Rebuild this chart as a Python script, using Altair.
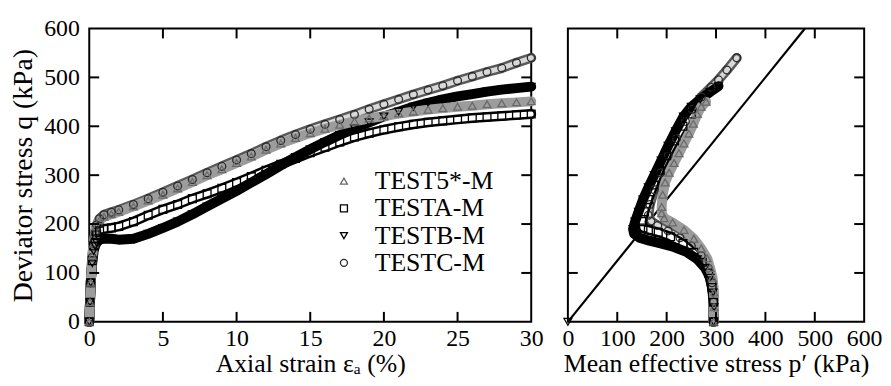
import altair as alt
import pandas as pd

SERIES = ["TEST5*-M", "TESTA-M", "TESTB-M", "TESTC-M"]
SHAPES = ["triangle-up", "square", "triangle-down", "circle"]
MARK_STROKE = ["#6a6a6a", "#000000", "#000000", "#2a2a2a"]
BAND_OUTER = ["#9c9c9c", "#000000", "#000000", "#5a5a5a"]
BAND_INNER = [None, "#ffffff", None, "#d8d8d8"]
DRAW_ORDER = [3, 1, 2, 0]

# ---- Left panel: axial strain (%) vs deviator stress q (kPa)
strain = [0, 0.05, 0.1, 0.2, 0.3, 0.4, 0.5, 0.7, 1, 1.5, 2, 3, 4, 5, 6, 7, 8, 9, 10,
          11, 12, 13, 14, 15, 16, 17, 18, 19, 20, 21, 22, 23, 24, 25, 26, 27, 28, 29, 30]
q_t5 = [0, 40, 80, 135, 160, 180, 195, 208, 215, 220, 225, 236, 248, 260, 273, 286, 300, 312, 325,
        338, 352, 365, 376, 386, 395, 403, 410, 416, 421, 426, 430, 434, 437, 440, 442, 445, 447, 449, 451]
q_ta = [0, 40, 80, 125, 155, 170, 178, 186, 190, 192, 195, 205, 218, 230, 240, 252, 262, 273, 285,
        297, 310, 322, 334, 346, 357, 368, 378, 386, 393, 399, 404, 408, 411, 414, 417, 419, 421, 423, 425]
q_tb = [0, 40, 80, 120, 145, 155, 162, 168, 170, 170, 168, 170, 180, 192, 205, 220, 236, 252, 268,
        285, 302, 320, 337, 353, 368, 382, 396, 408, 420, 430, 440, 448, 455, 461, 466, 471, 475, 478, 481]
q_tc = [0, 40, 80, 132, 162, 183, 198, 211, 219, 224, 229, 240, 252, 265, 278, 291, 305, 318, 331,
        344, 358, 371, 383, 394, 404, 414, 424, 435, 445, 455, 465, 474, 483, 493, 502, 511, 519, 530, 540]

# ---- Right panel: mean effective stress p' (kPa) vs q (kPa)
p_t5 = [295, 296, 296, 293, 288, 282, 270, 255, 235, 212, 195, 190, 190, 192, 197, 205, 215, 225, 235, 245, 254, 262, 270, 280]
pq_t5 = [0, 30, 60, 90, 110, 130, 150, 170, 188, 203, 212, 222, 235, 260, 285, 305, 325, 345, 365, 385, 405, 425, 440, 450]
p_ta = [295, 295, 292, 285, 272, 255, 233, 208, 183, 163, 152, 150, 155, 163, 174, 186, 200, 216, 233, 250]
pq_ta = [0, 40, 70, 100, 122, 142, 160, 174, 183, 188, 192, 205, 225, 250, 280, 310, 340, 370, 400, 425]
p_tb = [295, 296, 294, 288, 278, 262, 240, 215, 190, 165, 145, 134, 132, 136, 143, 152, 163, 175, 189, 203,
        218, 234, 250, 268, 288, 305]
pq_tb = [0, 30, 60, 90, 110, 128, 143, 153, 160, 166, 172, 180, 190, 205, 225, 250, 275, 300, 330, 360,
         390, 420, 440, 455, 470, 482]
p_tc = [295, 295, 292, 284, 270, 250, 227, 203, 182, 168, 163, 166, 175, 188, 203, 220, 238, 252, 270, 290, 305, 322, 342]
pq_tc = [0, 40, 80, 110, 135, 155, 172, 186, 197, 206, 218, 240, 270, 305, 340, 375, 410, 435, 460, 480, 495, 515, 540]
p_tb_extra = [0]
pq_tb_extra = [0]

csl_p = [0, 480]
csl_q = [0, 600]

left_x_labels = [0, 5, 10, 15, 20, 25, 30]
left_x_ticks = [5, 10, 15, 20, 25]
q_labels = [0, 100, 200, 300, 400, 500, 600]
q_ticks = [100, 200, 300, 400, 500]
p_labels = [0, 100, 200, 300, 400, 500, 600]
p_ticks = [100, 200, 300, 400, 500]

FONT = "Liberation Serif"
W1, W2, H = 446, 299, 296
TICK = 10


def long_frame(xs_list, ys_list):
    rows = []
    for k in DRAW_ORDER:
        for i, (x, y) in enumerate(zip(xs_list[k], ys_list[k])):
            rows.append({"series": SERIES[k], "idx": i, "x": x, "q": y})
    return pd.DataFrame(rows)


left_df = long_frame([strain] * 4, [q_t5, q_ta, q_tb, q_tc])
right_df = long_frame([p_t5, p_ta, p_tb, p_tc], [pq_t5, pq_ta, pq_tb, pq_tc])
right_pts = pd.concat([right_df, pd.DataFrame({"series": ["TESTB-M"], "idx": [-1],
                                               "x": p_tb_extra, "q": pq_tb_extra})])

common_axis = dict(domain=False, ticks=False, grid=False, labelFlush=False, labelOverlap=False,
                   labelBound=False)


def panel(df_lines, df_pts, xdomain, xlabels, xticks, xtitle, width, show_y, legend):
    xs = alt.Scale(domain=xdomain, nice=False, zero=False)
    ys = alt.Scale(domain=[0, 600], nice=False, zero=False)
    X = alt.X("x:Q", scale=xs, axis=alt.Axis(values=xlabels, title=xtitle, **common_axis))
    if show_y:
        Y = alt.Y("q:Q", scale=ys, axis=alt.Axis(values=q_labels, title="Deviator stress q (kPa)",
                                                 **common_axis))
    else:
        Y = alt.Y("q:Q", scale=ys, axis=None)
    layers = []
    for k in DRAW_ORDER:
        s = SERIES[k]
        d = df_lines[df_lines.series == s]
        layers.append(
            alt.Chart(d).mark_line(
                color=BAND_OUTER[k], strokeWidth=10, strokeJoin="round", strokeCap="round"
            ).encode(x=X, y=Y, order="idx:Q")
        )
        if BAND_INNER[k]:
            layers.append(
                alt.Chart(d).mark_line(
                    color=BAND_INNER[k], strokeWidth=5, strokeJoin="round", strokeCap="round"
                ).encode(x=X, y=Y, order="idx:Q")
            )
    if legend:
        leg = alt.Legend(orient="none", legendX=244, legendY=141, title=None,
                         labelFont=FONT, labelFontSize=26, labelColor="black",
                         symbolSize=50, symbolStrokeWidth=1.3, labelOffset=18,
                         rowPadding=1.5, padding=0, symbolFillColor="white")
    else:
        leg = None
    layers.append(
        alt.Chart(df_pts).mark_point(filled=False, size=62, strokeWidth=1.3, opacity=1).encode(
            x=X, y=Y,
            shape=alt.Shape("series:N", scale=alt.Scale(domain=SERIES, range=SHAPES), legend=leg),
            stroke=alt.Stroke("series:N", scale=alt.Scale(domain=SERIES, range=MARK_STROKE), legend=leg),
            order="idx:Q",
        )
    )
    xt = pd.DataFrame({"x": xticks})
    yt = pd.DataFrame({"q": q_ticks})
    layers.append(alt.Chart(xt).mark_rule(color="black", strokeWidth=2).encode(
        x=X, y=alt.value(H), y2=alt.value(H - TICK)))
    layers.append(alt.Chart(xt).mark_rule(color="black", strokeWidth=2).encode(
        x=X, y=alt.value(0), y2=alt.value(TICK)))
    layers.append(alt.Chart(yt).mark_rule(color="black", strokeWidth=2).encode(
        y=Y, x=alt.value(0), x2=alt.value(TICK)))
    layers.append(alt.Chart(yt).mark_rule(color="black", strokeWidth=2).encode(
        y=Y, x=alt.value(width), x2=alt.value(width - TICK)))
    return layers, X, Y


left_layers, _, _ = panel(left_df, left_df, [0, 30], left_x_labels, left_x_ticks,
                          "Axial strain  \u03b5\u2090 (%)", W1, True, True)
left = alt.layer(*left_layers).properties(width=W1, height=H)

right_layers, XR, YR = panel(right_df, right_pts, [0, 600], p_labels, p_ticks,
                             "Mean effective stress  p\u2032 (kPa)", W2, False, False)
csl = alt.Chart(pd.DataFrame({"x": csl_p, "q": csl_q})).mark_line(
    color="black", strokeWidth=2.2).encode(x=XR, y=YR)
right = alt.layer(csl, *right_layers).properties(width=W2, height=H)

chart = alt.hconcat(left, right, spacing=37, bounds="flush").resolve_scale(
    shape="independent", stroke="independent", y="independent", x="independent"
).resolve_legend(shape="independent", stroke="independent").properties(
    padding={"left": 0, "top": 6, "right": 0, "bottom": 0}
).configure_view(stroke="black", strokeWidth=2).configure_axis(
    labelFont=FONT, labelFontSize=24, labelColor="black",
    titleFont=FONT, titleFontSize=26, titleFontWeight="normal", titleColor="black",
).configure_axisX(labelPadding=5, titlePadding=0).configure_axisY(
    labelPadding=10, titlePadding=6, titleFontSize=28)

chart.save("out.html", embed_options={"renderer": "svg", "actions": False})
